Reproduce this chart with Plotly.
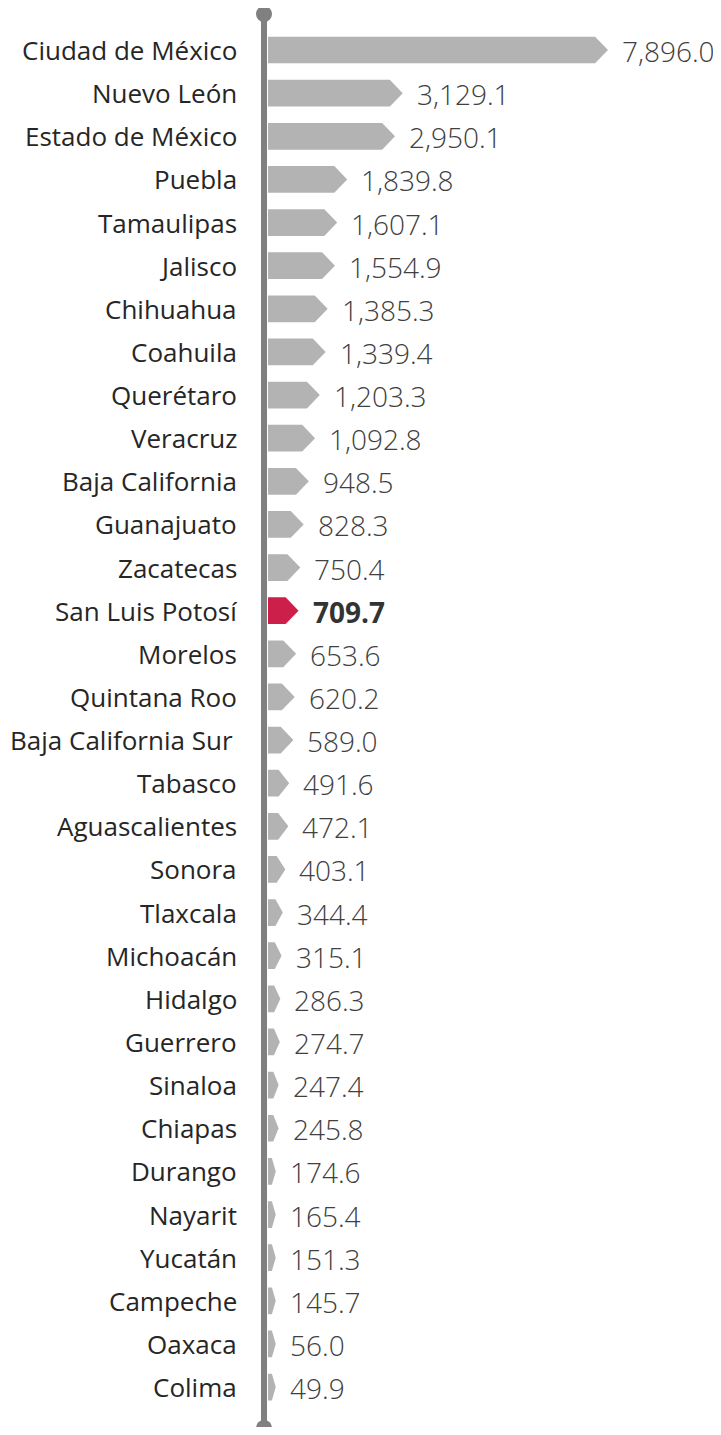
import plotly.graph_objects as go

states = ["Ciudad de México", "Nuevo León", "Estado de México", "Puebla", "Tamaulipas",
          "Jalisco", "Chihuahua", "Coahuila", "Querétaro", "Veracruz", "Baja California",
          "Guanajuato", "Zacatecas", "San Luis Potosí", "Morelos", "Quintana Roo",
          "Baja California Sur ", "Tabasco", "Aguascalientes", "Sonora", "Tlaxcala",
          "Michoacán", "Hidalgo", "Guerrero", "Sinaloa", "Chiapas", "Durango", "Nayarit",
          "Yucatán", "Campeche", "Oaxaca", "Colima"]
values = [7896.0, 3129.1, 2950.1, 1839.8, 1607.1, 1554.9, 1385.3, 1339.4, 1203.3, 1092.8,
          948.5, 828.3, 750.4, 709.7, 653.6, 620.2, 589.0, 491.6, 472.1, 403.1, 344.4,
          315.1, 286.3, 274.7, 247.4, 245.8, 174.6, 165.4, 151.3, 145.7, 56.0, 49.9]
highlight = "San Luis Potosí"

# page has an 8px body margin; figure sized so the page fits the window
OFF = 8
W, H = 721 - OFF, 1435 - 2 * OFF
X0_PX = 268.0 - OFF    # pixel of value 0
SCALE = 0.04306        # px per unit
Y0_PX = 50.0 - OFF     # pixel of first row
ROW = 43.13            # px per row

x_range = [-X0_PX / SCALE, (W - X0_PX) / SCALE]
y_range = [(H - Y0_PX) / ROW, -Y0_PX / ROW]

GRAY = "#b3b3b3"
RED = "#cc1f4a"
AXIS = "#808080"

fig = go.Figure()
half = 0.31
min_tip = 180.0
for i, (s, v) in enumerate(zip(states, values)):
    tip = max(v, min_tip)
    d = min(300.0, 0.5 * tip)
    body = tip - d
    xs = [0, body, tip, body, 0, 0]
    ys = [i - half, i - half, i, i + half, i + half, i - half]
    fig.add_trace(go.Scatter(x=xs, y=ys, mode="lines", fill="toself",
                             fillcolor=RED if s == highlight else GRAY,
                             line=dict(width=0), hoverinfo="skip", showlegend=False))
    label = s.rstrip() + "\u2009" if s.endswith(" ") else s
    fig.add_annotation(x=(239 - OFF) / W, xref="paper", y=i, yref="y", xanchor="right",
                       yanchor="middle", text=label, showarrow=False,
                       font=dict(family="Open Sans", size=26, color="#262626"))
    bold = s == highlight
    fig.add_annotation(x=tip, xref="x", y=i, yref="y", xanchor="left", yanchor="middle",
                       xshift=12, yshift=-1, text=f"{v:,.1f}", showarrow=False,
                       font=dict(family="Open Sans", size=28,
                                 color="#333333" if bold else "#404040",
                                 weight=700 if bold else 300))

# vertical axis line with end dots
top_y = 1 - (14 - OFF) / H
bot_y = 1 - (1428 - OFF) / H
fig.add_shape(type="line", xref="x", yref="paper", xsizemode="pixel", xanchor=0,
              x0=-4, x1=-4, y0=bot_y, y1=top_y, line=dict(color=AXIS, width=6), layer="above")
for yy in (top_y, bot_y):
    fig.add_shape(type="circle", xref="x", yref="paper", xsizemode="pixel",
                  ysizemode="pixel", xanchor=0, yanchor=yy, x0=-12, x1=4, y0=-8, y1=8,
                  fillcolor=AXIS, line=dict(width=0), layer="above")

fig.update_layout(width=W, height=H, margin=dict(l=0, r=0, t=0, b=0),
                  plot_bgcolor="white", paper_bgcolor="white",
                  xaxis=dict(range=x_range, visible=False, fixedrange=True),
                  yaxis=dict(range=y_range, visible=False, fixedrange=True),
                  showlegend=False)
fig.write_html("out.html")
